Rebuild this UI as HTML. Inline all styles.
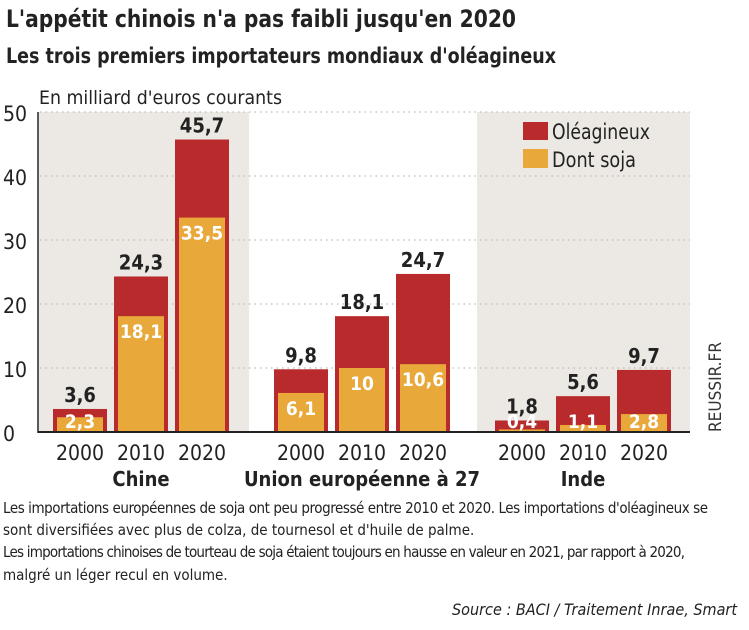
<!DOCTYPE html>
<html><head><meta charset="utf-8"><style>
body{margin:0;background:#fff}
svg{display:block;font-family:"DejaVu Sans Condensed","Liberation Sans",sans-serif}
</style></head><body>
<svg width="749" height="630" viewBox="0 0 749 630">
<text x="6" y="27" font-size="24" font-weight="bold" fill="#222" textLength="510" lengthAdjust="spacingAndGlyphs">L'appétit chinois n'a pas faibli jusqu'en 2020</text>
<text x="6" y="63" font-size="21" font-weight="bold" fill="#222" textLength="550" lengthAdjust="spacingAndGlyphs">Les trois premiers importateurs mondiaux d'oléagineux</text>
<text x="39" y="104" font-size="19" fill="#222" textLength="243" lengthAdjust="spacingAndGlyphs">En milliard d'euros courants</text>
<rect x="39" y="112" width="210" height="320" fill="#ece9e4"/>
<rect x="477" y="112" width="213" height="320" fill="#ece9e4"/>
<g id="grid"></g><g id="bars"></g><g id="labels"></g>
<line x1="38" y1="432" x2="690" y2="432" stroke="#222" stroke-width="2"/>
<line x1="38" y1="112" x2="38" y2="433" stroke="#222" stroke-width="1.5"/>
<rect x="523" y="122" width="25" height="18" fill="#b92a2c"/>
<text x="552" y="139" font-size="21" fill="#222" textLength="98" lengthAdjust="spacingAndGlyphs">Oléagineux</text>
<rect x="523" y="149" width="25" height="19" fill="#e8a83a"/>
<text x="552" y="167" font-size="21" fill="#222" textLength="84" lengthAdjust="spacingAndGlyphs">Dont soja</text>
<text transform="translate(721,432) rotate(-90)" font-size="17" fill="#333" textLength="90" lengthAdjust="spacingAndGlyphs">REUSSIR.FR</text>
<g font-size="15" fill="#222">
<text x="3" y="513" textLength="705" lengthAdjust="spacing">Les importations européennes de soja ont peu progressé entre 2010 et 2020. Les importations d'oléagineux se</text>
<text x="3" y="535">sont diversifiées avec plus de colza, de tournesol et d'huile de palme.</text>
<text x="3" y="557" textLength="682" lengthAdjust="spacing">Les importations chinoises de tourteau de soja étaient toujours en hausse en valeur en 2021, par rapport à 2020,</text>
<text x="3" y="580">malgré un léger recul en volume.</text>
</g>
<text x="452" y="615" font-size="16" font-style="italic" fill="#222" textLength="285" lengthAdjust="spacingAndGlyphs">Source : BACI / Traitement Inrae, Smart</text>
</svg>
<script>
const groups = ["Chine","Union européenne à 27","Inde"];
const years = ["2000","2010","2020"];
const oleagineux = [3.6,24.3,45.7, 9.8,18.1,24.7, 1.8,5.6,9.7];
const soja = [2.3,18.1,33.5, 6.1,10,10.6, 0.4,1.1,2.8];
const yTicks = [0,10,20,30,40,50];
const ns="http://www.w3.org/2000/svg";
function y(v){return 432 - v*6.4;}
function xBar(i){const g=Math.floor(i/3),k=i%3;return [53,274,495][g]+k*61;}
function fmt(v){return String(v).replace('.',',');}
function mk(tag,attrs,parent,text){const e=document.createElementNS(ns,tag);for(const k in attrs)e.setAttribute(k,attrs[k]);if(text!==undefined)e.textContent=text;parent.appendChild(e);return e;}
const grid=document.getElementById('grid'),bars=document.getElementById('bars'),labels=document.getElementById('labels');
yTicks.forEach(t=>{
  if(t>0){const l=mk('line',{x1:40,x2:690,y1:y(t),y2:y(t),stroke:'#aaa','stroke-width':1,'stroke-dasharray':'1.5 4'},grid);
  
  }
  const tx=mk('text',{x:3,y:y(t)+9,'font-size':21,fill:'#222'},grid,String(t));
  
  
});
oleagineux.forEach((v,i)=>{
  const x=xBar(i),w=54;
  const r=mk('rect',{x:x,y:y(v),width:w,height:432-y(v),fill:'#b92a2c'},bars);
  
  
  const s=soja[i];
  const r2=mk('rect',{x:x+4,y:y(s),width:w-8,height:432-y(s),fill:'#e8a83a'},bars);
  
  
  const t=mk('text',{x:x+w/2,y:y(v)-7,'font-size':20,'font-weight':'bold',fill:'#222','text-anchor':'middle'},labels,fmt(v));
  
  
  const ty=Math.min(y(s)+22,428);
  const t2=mk('text',{x:x+w/2,y:ty,'font-size':19,'font-weight':'bold',fill:'#fff','text-anchor':'middle'},labels,fmt(s));
  
  
  const ty2=mk('text',{x:x+w/2,y:460,'font-size':21,fill:'#222','text-anchor':'middle'},labels,years[i%3]);
  
  
});
groups.forEach((g,j)=>{
  const cx=xBar(j*3+1)+27;
  const t=mk('text',{x:cx,y:486,'font-size':20,'font-weight':'bold',fill:'#222','text-anchor':'middle'},labels,g);
  
  
});
</script>
</body></html>
